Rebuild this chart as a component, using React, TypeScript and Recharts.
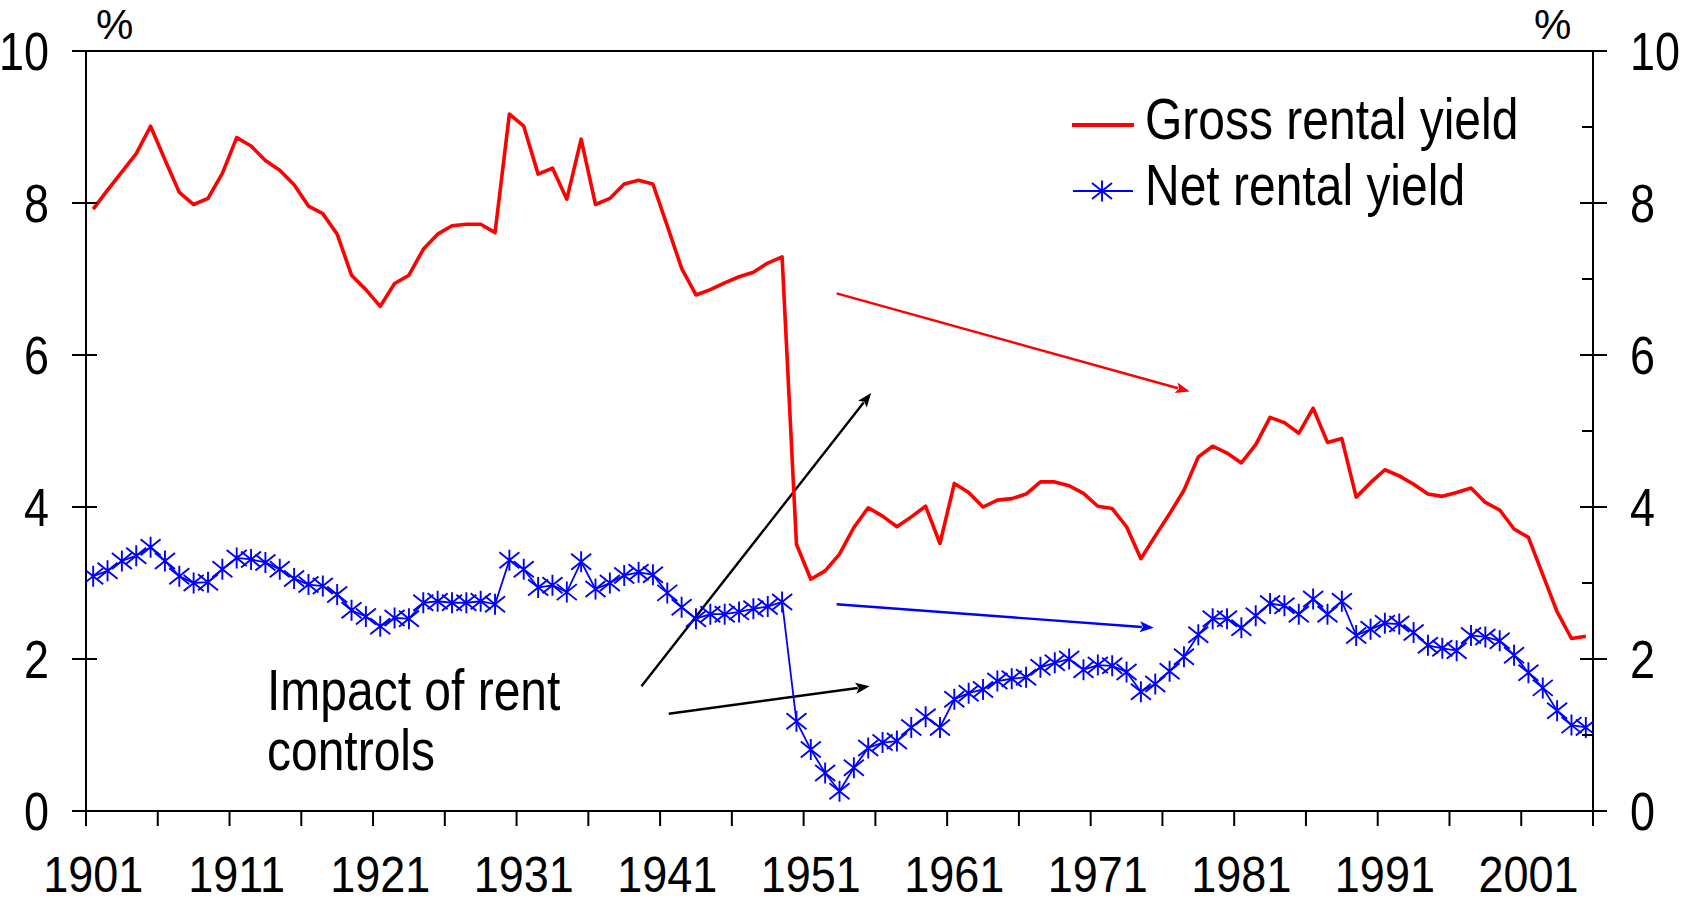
import React from 'react';
import { LineChart, Line, XAxis, YAxis, ReferenceLine, Legend } from 'recharts';

const years = [
  1901, 1902, 1903, 1904, 1905, 1906, 1907, 1908, 1909, 1910,
  1911, 1912, 1913, 1914, 1915, 1916, 1917, 1918, 1919, 1920,
  1921, 1922, 1923, 1924, 1925, 1926, 1927, 1928, 1929, 1930,
  1931, 1932, 1933, 1934, 1935, 1936, 1937, 1938, 1939, 1940,
  1941, 1942, 1943, 1944, 1945, 1946, 1947, 1948, 1949, 1950,
  1951, 1952, 1953, 1954, 1955, 1956, 1957, 1958, 1959, 1960,
  1961, 1962, 1963, 1964, 1965, 1966, 1967, 1968, 1969, 1970,
  1971, 1972, 1973, 1974, 1975, 1976, 1977, 1978, 1979, 1980,
  1981, 1982, 1983, 1984, 1985, 1986, 1987, 1988, 1989, 1990,
  1991, 1992, 1993, 1994, 1995, 1996, 1997, 1998, 1999, 2000,
  2001, 2002, 2003, 2004, 2005,
];

const grossYield = [
  7.92, 8.17, 8.41, 8.65, 9.01, 8.57, 8.14, 7.98, 8.06, 8.39,
  8.86, 8.75, 8.56, 8.43, 8.24, 7.96, 7.86, 7.59, 7.05, 6.86,
  6.64, 6.94, 7.05, 7.39, 7.59, 7.70, 7.72, 7.72, 7.61, 9.17,
  9.01, 8.38, 8.46, 8.05, 8.84, 7.98, 8.06, 8.25, 8.30, 8.25,
  7.70, 7.14, 6.79, 6.86, 6.95, 7.03, 7.09, 7.21, 7.29, 3.51,
  3.05, 3.16, 3.38, 3.73, 3.99, 3.88, 3.74, 3.87, 4.01, 3.52,
  4.31, 4.19, 4.00, 4.09, 4.11, 4.17, 4.33, 4.33, 4.28, 4.18,
  4.01, 3.98, 3.74, 3.32, 3.62, 3.91, 4.22, 4.66, 4.80, 4.71,
  4.58, 4.82, 5.18, 5.11, 4.97, 5.30, 4.85, 4.90, 4.13, 4.32,
  4.49, 4.41, 4.30, 4.17, 4.14, 4.19, 4.25, 4.06, 3.96, 3.71,
  3.60, 3.11, 2.62, 2.27, 2.30,
];

const netYield = [
  3.09, 3.16, 3.29, 3.36, 3.47, 3.29, 3.09, 3.00, 3.01, 3.18,
  3.33, 3.31, 3.27, 3.18, 3.06, 2.98, 2.96, 2.85, 2.64, 2.56,
  2.43, 2.54, 2.53, 2.74, 2.76, 2.74, 2.74, 2.76, 2.72, 3.30,
  3.18, 2.94, 2.97, 2.88, 3.28, 2.92, 3.00, 3.10, 3.14, 3.11,
  2.87, 2.68, 2.53, 2.59, 2.59, 2.62, 2.66, 2.69, 2.75, 1.18,
  0.81, 0.50, 0.26, 0.57, 0.83, 0.90, 0.92, 1.10, 1.24, 1.10,
  1.47, 1.55, 1.60, 1.71, 1.74, 1.76, 1.89, 1.95, 2.00, 1.86,
  1.92, 1.91, 1.83, 1.57, 1.67, 1.84, 2.03, 2.32, 2.53, 2.53,
  2.41, 2.57, 2.73, 2.70, 2.59, 2.79, 2.59, 2.76, 2.31, 2.39,
  2.47, 2.46, 2.35, 2.18, 2.14, 2.11, 2.31, 2.29, 2.24, 2.05,
  1.82, 1.62, 1.32, 1.13, 1.10,
];

const xTickBounds = [
  1900.5, 1905.5, 1910.5, 1915.5, 1920.5, 1925.5, 1930.5, 1935.5, 1940.5, 1945.5, 1950.5,
  1955.5, 1960.5, 1965.5, 1970.5, 1975.5, 1980.5, 1985.5, 1990.5, 1995.5, 2000.5, 2005.5,
];
const xTickLabels = ['1901', '1911', '1921', '1931', '1941', '1951', '1961', '1971', '1981', '1991', '2001'];
const leftTicks = [0, 2, 4, 6, 8, 10];
const rightTicks = [0, 1, 2, 3, 4, 5, 6, 7, 8, 9, 10];

const seriesNames = ['Gross rental yield', 'Net rental yield'];
const seriesColors = ['#FF0000', '#0000FF'];
const unitLabel = '%';
const annotationText = ['Impact of rent', 'controls'];

// annotation arrows in data units: [fromYear, fromValue, toYear, toValue]
const arrowRed = [1952.8, 6.81, 1977.4, 5.52];
const arrowBlue = [1952.8, 2.72, 1974.9, 2.41];
const arrowBlack1 = [1939.2, 1.64, 1955.2, 5.5];
const arrowBlack2 = [1941.1, 1.28, 1955.1, 1.64];

const data = years.map((year, i) => ({ year, gross: grossYield[i], net: netYield[i] }));

const W = 1685;
const H = 904;
const FONT = "'Liberation Sans', Arial, sans-serif";
const HALF_CAT = (1593 - 86) / 105 / 2;
const TICK_FS = 45;

const SText = (props: any) => {
  const { x, y, anchor = 'start', size, stretch = 1.18, children } = props;
  return (
    <text
      transform={`translate(${x},${y}) scale(1,${stretch})`}
      x={0}
      y={0}
      textAnchor={anchor}
      fontSize={size}
      fontFamily={FONT}
      fill="#000"
    >
      {children}
    </text>
  );
};

const LeftTick = (props: any) => {
  const { x, y, payload } = props;
  return (
    <g>
      <line x1={x - 14} x2={x + 11} y1={y} y2={y} stroke="#000" strokeWidth={2} />
      <SText x={x - 37} y={y + 19} anchor="end" size={TICK_FS}>
        {payload.value}
      </SText>
    </g>
  );
};

const RightTick = (props: any) => {
  const { x, y, payload } = props;
  const major = payload.value % 2 === 0;
  if (!major) {
    return <line x1={x - 11} x2={x} y1={y} y2={y} stroke="#000" strokeWidth={2} />;
  }
  return (
    <g>
      <line x1={x - 13} x2={x + 14} y1={y} y2={y} stroke="#000" strokeWidth={2} />
      <SText x={x + 37} y={y + 19} anchor="start" size={TICK_FS}>
        {payload.value}
      </SText>
    </g>
  );
};

const BottomTick = (props: any) => {
  const { x, y, index } = props;
  const hasLabel = index % 2 === 0 && index / 2 < xTickLabels.length;
  return (
    <g>
      <line x1={x} x2={x} y1={y} y2={y + 15} stroke="#000" strokeWidth={2} />
      {hasLabel && (
        <SText x={x + HALF_CAT} y={y + 81} anchor="middle" size={TICK_FS} stretch={1.12}>
          {xTickLabels[index / 2]}
        </SText>
      )}
    </g>
  );
};

const StarDot = (props: any) => {
  const { cx, cy, stroke } = props;
  if (cx == null || cy == null) return <g />;
  return (
    <path
      d={`M${cx},${cy - 10.5}V${cy + 10.5}M${cx - 10},${cy - 8}L${cx + 10},${cy + 8}M${cx - 10},${cy + 8}L${cx + 10},${cy - 8}`}
      stroke={stroke}
      strokeWidth={1.9}
      fill="none"
    />
  );
};

const arrowShape = (color: string) => (p: any) => {
  const { x1, y1, x2, y2 } = p;
  const dx = x2 - x1;
  const dy = y2 - y1;
  const len = Math.sqrt(dx * dx + dy * dy) || 1;
  const ux = dx / len;
  const uy = dy / len;
  const hl = 14;
  const hw = 5.5;
  const bx = x2 - ux * hl;
  const by = y2 - uy * hl;
  return (
    <g>
      <line x1={x1} y1={y1} x2={bx + ux * 2} y2={by + uy * 2} stroke={color} strokeWidth={2.4} />
      <polygon
        points={`${x2},${y2} ${bx - uy * hw},${by + ux * hw} ${bx + ux * 3},${by + uy * 3} ${bx + uy * hw},${by - ux * hw}`}
        fill={color}
      />
    </g>
  );
};

const Overlay = () => (
  <svg width={W} height={H} style={{ position: 'absolute', left: 0, top: 0, overflow: 'visible' }}>
    <SText x={96} y={39} size={42} stretch={1}>{unitLabel}</SText>
    <SText x={1534} y={39} size={42} stretch={1}>{unitLabel}</SText>
    <line x1={1072} x2={1134} y1={125} y2={125} stroke={seriesColors[0]} strokeWidth={4} />
    <SText x={1145} y={139} size={48}>{seriesNames[0]}</SText>
    <line x1={1073} x2={1133} y1={191} y2={191} stroke={seriesColors[1]} strokeWidth={2} />
    <StarDot cx={1102} cy={191} stroke={seriesColors[1]} />
    <SText x={1145} y={205} size={48}>{seriesNames[1]}</SText>
    <SText x={267} y={710} size={48}>{annotationText[0]}</SText>
    <SText x={267} y={770} size={48}>{annotationText[1]}</SText>
  </svg>
);

const seg = (a: number[]) => [
  { x: a[0], y: a[1] },
  { x: a[2], y: a[3] },
];

export default function App() {
  return (
    <div style={{ position: 'absolute', left: 0, top: 0, width: W, height: H, background: '#fff' }}>
      <LineChart width={W} height={H} data={data} margin={{ top: 51, right: 0, bottom: 0, left: 0 }}>
        <XAxis
          dataKey="year"
          type="number"
          domain={[1900.5, 2005.5]}
          ticks={xTickBounds}
          interval={0}
          height={93}
          tickSize={0}
          tickMargin={0}
          tickLine={false}
          axisLine={{ stroke: '#000', strokeWidth: 2 }}
          tick={<BottomTick />}
          allowDataOverflow
        />
        <YAxis
          yAxisId="left"
          orientation="left"
          type="number"
          domain={[0, 10]}
          ticks={leftTicks}
          interval={0}
          width={86}
          tickSize={0}
          tickMargin={0}
          tickLine={false}
          axisLine={{ stroke: '#000', strokeWidth: 2 }}
          tick={<LeftTick />}
          allowDataOverflow
        />
        <YAxis
          yAxisId="right"
          orientation="right"
          type="number"
          domain={[0, 10]}
          ticks={rightTicks}
          interval={0}
          width={92}
          tickSize={0}
          tickMargin={0}
          tickLine={false}
          axisLine={{ stroke: '#000', strokeWidth: 2 }}
          tick={<RightTick />}
          allowDataOverflow
        />
        <ReferenceLine yAxisId="left" y={10} stroke="#000" strokeWidth={2} ifOverflow="extendDomain" />
        <ReferenceLine yAxisId="left" segment={seg(arrowRed)} shape={arrowShape('#FF0000')} />
        <ReferenceLine yAxisId="left" segment={seg(arrowBlue)} shape={arrowShape('#0000FF')} />
        <ReferenceLine yAxisId="left" segment={seg(arrowBlack1)} shape={arrowShape('#000000')} />
        <ReferenceLine yAxisId="left" segment={seg(arrowBlack2)} shape={arrowShape('#000000')} />
        <Line
          yAxisId="left"
          dataKey="gross"
          name={seriesNames[0]}
          stroke={seriesColors[0]}
          strokeWidth={3.6}
          strokeLinejoin="round"
          dot={false}
          activeDot={false}
          isAnimationActive={false}
        />
        <Line
          yAxisId="right"
          dataKey="net"
          name={seriesNames[1]}
          stroke={seriesColors[1]}
          strokeWidth={1.8}
          dot={<StarDot />}
          activeDot={false}
          isAnimationActive={false}
        />
        <Legend
          layout="vertical"
          align="center"
          verticalAlign="middle"
          content={<Overlay />}
          wrapperStyle={{ left: 0, top: 0, width: 0, height: 0, overflow: 'visible' }}
        />
      </LineChart>
    </div>
  );
}
